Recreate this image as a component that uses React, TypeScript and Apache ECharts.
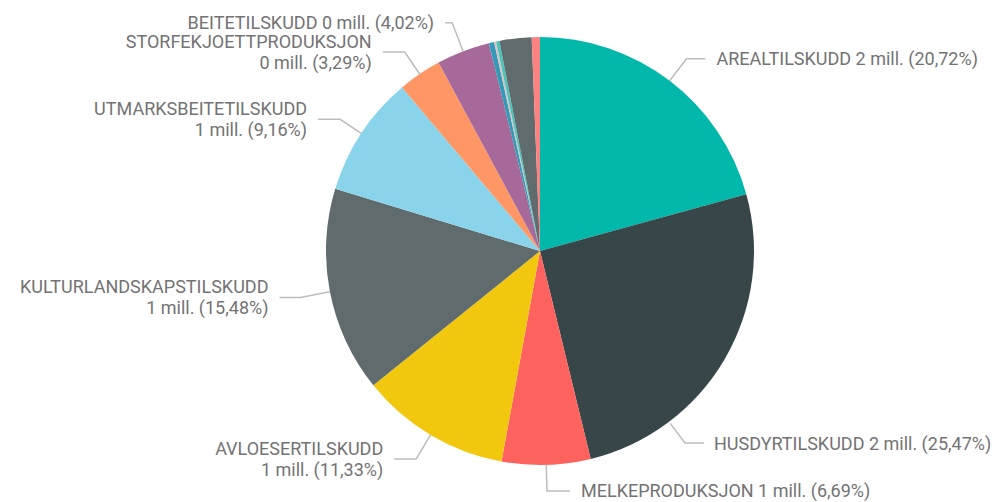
import React, { useEffect, useRef } from "react";
import * as echarts from "echarts";

const categories = [
  "AREALTILSKUDD",
  "HUSDYRTILSKUDD",
  "MELKEPRODUKSJON",
  "AVLOESERTILSKUDD",
  "KULTURLANDSKAPSTILSKUDD",
  "UTMARKSBEITETILSKUDD",
  "STORFEKJOETTPRODUKSJON",
  "BEITETILSKUDD",
  "TILSKUDD A",
  "TILSKUDD B",
  "TILSKUDD C",
  "TILSKUDD D",
  "TILSKUDD E",
];

// values in NOK
const values = [
  1761200, 2164950, 568650, 963050, 1315800, 778600, 279650, 341700,
  34000, 12750, 21250, 205700, 52700,
];

const colors = [
  "#01B8AA", "#374649", "#FD625E", "#F2C80F", "#5F6B6D", "#8AD4EB",
  "#FE9666", "#A66999", "#3599B8", "#DFBFBF", "#4AC5BB", "#5F6B6D", "#FB8281",
];

// labels shown (first 8), some wrapped on two lines
const labelled = [true, true, true, true, true, true, true, true, false, false, false, false, false];
const wrapped = [false, false, false, true, true, true, true, false, false, false, false, false, false];
// label guide line lengths (radial, horizontal)
const lineLen1 = [27.7, 22, 26, 28, 30, 25.4, 26.6, 30.5, 0, 0, 0, 0, 0];
const lineLen2 = [19, 19, 23, 22, 21, 22, 22, 7, 0, 0, 0, 0, 0];

const CX = 540;
const CY = 251;
const R = 214;
const GAP = 10;
// HUSDYRTILSKUDD label placed below its slice, like the original
const HUS_X = 714;
const HUS_Y = 443;
const HUS_SEG = 19;

export default function App() {
  const ref = useRef<HTMLDivElement>(null);
  useEffect(() => {
    if (!ref.current) return;
    const chart = echarts.init(ref.current, null, { renderer: "svg" });
    const data = categories.map((name, i) => ({
      name,
      value: values[i],
      itemStyle: { color: colors[i] },
      label: { show: labelled[i] },
      labelLine: { show: labelled[i], length: lineLen1[i], length2: lineLen2[i] },
    }));
    chart.setOption({
      animation: false,
      backgroundColor: "#ffffff",
      series: [
        {
          type: "pie",
          center: [CX, CY],
          radius: [0, R],
          startAngle: 90,
          clockwise: true,
          avoidLabelOverlap: false,
          data,
          itemStyle: { borderWidth: 0 },
          label: {
            color: "#737373",
            fontFamily: "Roboto",
            fontSize: 18,
            lineHeight: 21,
            overflow: "none",
            distanceToLabelLine: GAP + 1,
            formatter: (p: any) => {
              const i = p.dataIndex;
              const mill = Math.round(p.value / 1e6);
              const pct = p.percent.toFixed(2).replace(".", ",");
              const sep = wrapped[i] ? "\n" : " ";
              return `${p.name}${sep}${mill} mill. (${pct}%)`;
            },
          },
          labelLine: {
            lineStyle: { color: "#bdbdbd", width: 1.5 },
          },
          labelLayout: (p: any) => {
            if (p.dataIndex !== 1) return {};
            const endX = HUS_X - GAP;
            const midX = endX - HUS_SEG;
            const dx = midX - CX;
            const dy = HUS_Y - CY;
            const d = Math.sqrt(dx * dx + dy * dy);
            const sx = CX + (dx / d) * (R + 2);
            const sy = CY + (dy / d) * (R + 2);
            return {
              x: HUS_X,
              y: HUS_Y,
              align: "left",
              verticalAlign: "middle",
              labelLinePoints: [
                [sx, sy],
                [midX, HUS_Y],
                [endX, HUS_Y],
              ],
            };
          },
        },
      ],
    });
    return () => chart.dispose();
  }, []);
  return (
    <div
      ref={ref}
      style={{ position: "fixed", left: 0, top: 0, width: 1002, height: 502 }}
    />
  );
}
